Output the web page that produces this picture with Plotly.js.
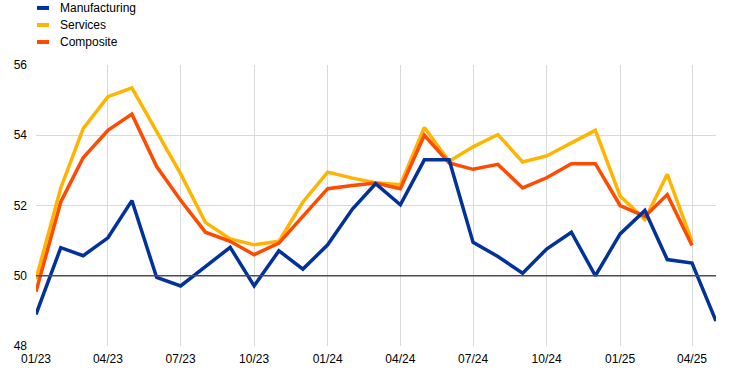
<!DOCTYPE html>
<html>
<head>
<meta charset="utf-8">
<script src="https://cdn.plot.ly/plotly-3.0.1.min.js"></script>
<style>html,body{margin:0;padding:0;background:#fff;}#chart{width:744px;height:371px;}</style>
</head>
<body>
<div id="chart"></div>
<script>
const months = ["2023-01-01","2023-02-01","2023-03-01","2023-04-01","2023-05-01","2023-06-01","2023-07-01","2023-08-01","2023-09-01","2023-10-01","2023-11-01","2023-12-01",
"2024-01-01","2024-02-01","2024-03-01","2024-04-01","2024-05-01","2024-06-01","2024-07-01","2024-08-01","2024-09-01","2024-10-01","2024-11-01","2024-12-01",
"2025-01-01","2025-02-01","2025-03-01","2025-04-01","2025-05-01"];
const manufacturing = [48.9,50.8,50.57,51.08,52.14,49.95,49.71,50.26,50.81,49.71,50.71,50.19,50.88,51.9,52.62,52.02,53.3,53.3,50.95,50.55,50.07,50.76,51.24,50.0,51.19,51.86,50.46,50.36,48.71];
const services = [49.9,52.5,54.19,55.1,55.35,54.1,52.9,51.52,51.05,50.88,50.98,52.1,52.95,52.78,52.65,52.59,54.22,53.26,53.67,54.02,53.24,53.41,53.79,54.14,52.27,51.6,52.89,50.97];
const composite = [49.55,52.1,53.36,54.14,54.6,53.11,52.15,51.24,50.98,50.6,50.93,51.69,52.48,52.57,52.64,52.48,54.0,53.21,53.03,53.17,52.5,52.79,53.19,53.19,52.0,51.69,52.31,50.86];
const seriesNames = ["Manufacturing","Services","Composite"];
const seriesColors = ["#003299","#FFB400","#FF4B00"];
const seriesValues = [manufacturing, services, composite];

const traces = [services, composite, manufacturing].map((vals) => {
  const i = seriesValues.indexOf(vals);
  return {
    x: months.slice(0, vals.length),
    y: vals,
    type: "scatter",
    mode: "lines",
    name: seriesNames[i],
    line: {color: seriesColors[i], width: 3.5},
    showlegend: false,
    hoverinfo: "skip"
  };
});

const shapes = [{
  type: "line", xref: "paper", yref: "y", x0: 0, x1: 1, y0: 50, y1: 50,
  line: {color: "#4d4d4d", width: 1.5}, layer: "above"
}];
const annotations = [];
seriesNames.forEach((n, i) => {
  const yPx = 8 + i * 17;
  shapes.push({
    type: "line", xref: "paper", yref: "paper",
    x0: (37 - 36) / 680, x1: (49 - 36) / 680,
    y0: 1 + (65 - yPx) / 280.7, y1: 1 + (65 - yPx) / 280.7,
    line: {color: seriesColors[i], width: 4}
  });
  annotations.push({
    xref: "paper", yref: "paper", x: (58 - 36) / 680, y: 1 + (65 - yPx) / 280.7,
    xanchor: "left", yanchor: "middle", showarrow: false, text: n,
    font: {family: "Liberation Sans, Arial, sans-serif", size: 12, color: "#000"}
  });
});

const layout = {
  width: 744, height: 371,
  margin: {l: 36, r: 28, t: 65, b: 25.3, pad: 0},
  paper_bgcolor: "#fff", plot_bgcolor: "#fff",
  font: {family: "Liberation Sans, Arial, sans-serif", size: 12, color: "#000"},
  xaxis: {
    type: "date", range: ["2023-01-01", "2025-05-01"],
    tick0: "2023-01-01", dtick: "M3", tickformat: "%m/%y",
    showgrid: true, gridcolor: "#d9d9d9", gridwidth: 1,
    zeroline: false, showline: false, ticks: "", ticklabelstandoff: 4,
    tickfont: {size: 12, color: "#000"}
  },
  yaxis: {
    range: [48, 56], dtick: 2, tick0: 48,
    showgrid: true, gridcolor: "#d9d9d9", gridwidth: 1,
    zeroline: false, showline: false, ticks: "", ticklabelstandoff: 8,
    tickfont: {size: 12, color: "#000"}
  },
  shapes: shapes,
  annotations: annotations,
  showlegend: false
};

Plotly.newPlot("chart", traces, layout, {displayModeBar: false, staticPlot: true});
</script>
</body>
</html>
